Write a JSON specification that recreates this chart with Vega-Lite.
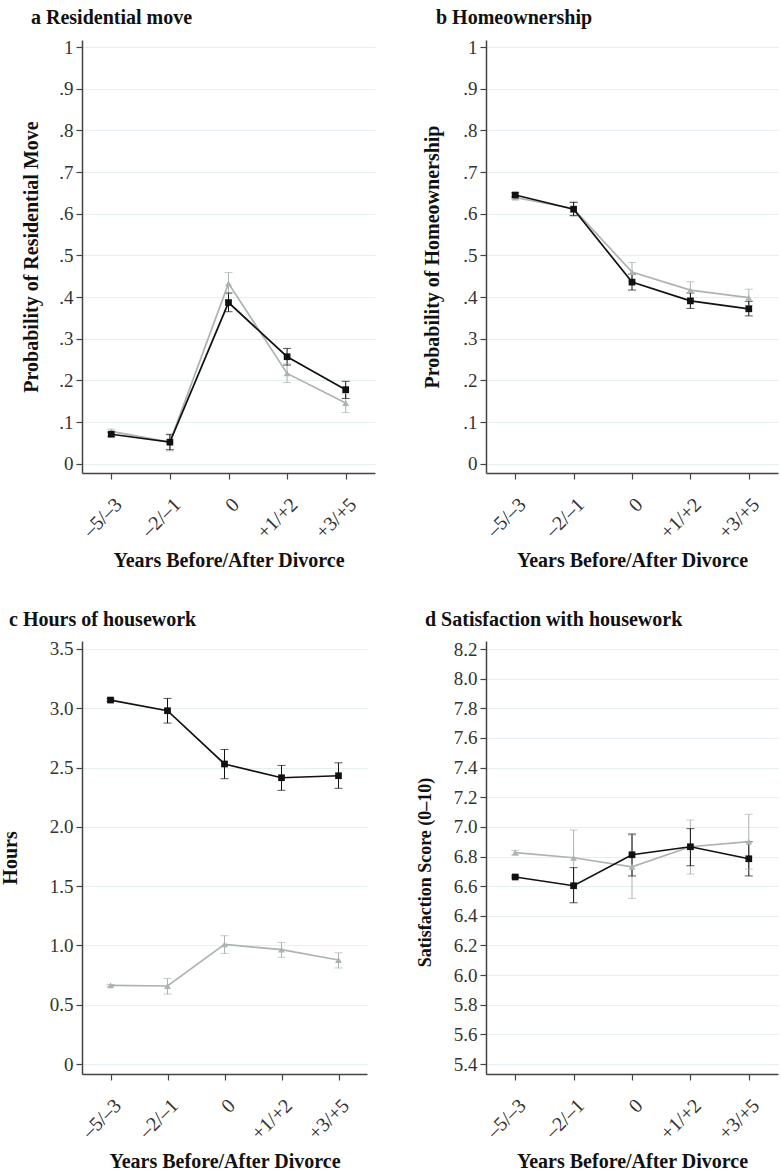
{
  "$schema": "https://vega.github.io/schema/vega-lite/v6.json",
  "background": "white",
  "padding": {"left": 0, "top": 8, "right": 2, "bottom": 2},
  "bounds": "flush",
  "columns": 2,
  "spacing": {"row": 168, "column": 111},
  "config": {
    "font": "Liberation Serif",
    "view": {"stroke": null},
    "axis": {"labelFont": "Liberation Serif", "titleFont": "Liberation Serif", "labelFontSize": 19, "titleFontSize": 20, "titleFontWeight": "bold", "labelColor": "#333333", "titleColor": "#111111", "domainColor": "#444444", "domainWidth": 1.5, "tickColor": "#444444", "tickSize": 6, "tickWidth": 1.2, "gridColor": "#e6eff0", "gridWidth": 1, "labelPadding": 3, "labelOverlap": false},
    "axisX": {"grid": false, "labelAngle": -45, "labelFontSize": 20, "labelPadding": 15, "titlePadding": 8},
    "axisY": {"grid": true, "labelOverlap": false},
    "axisQuantitative": {"labelOverlap": false},
    "title": {"font": "Liberation Serif", "fontSize": 20, "fontWeight": "bold", "color": "#111111", "anchor": "start", "frame": "group", "offset": 10}
  },
  "datasets": {
    "a": [
      {"period": "–5/–3", "group": "Men", "v": 0.078, "lo": 0.073, "hi": 0.083},
      {"period": "–2/–1", "group": "Men", "v": 0.052, "lo": 0.031, "hi": 0.072},
      {"period": "0", "group": "Men", "v": 0.433, "lo": 0.408, "hi": 0.459},
      {"period": "+1/+2", "group": "Men", "v": 0.217, "lo": 0.195, "hi": 0.240},
      {"period": "+3/+5", "group": "Men", "v": 0.146, "lo": 0.123, "hi": 0.168},
      {"period": "–5/–3", "group": "Women", "v": 0.071, "lo": 0.066, "hi": 0.076},
      {"period": "–2/–1", "group": "Women", "v": 0.052, "lo": 0.034, "hi": 0.070},
      {"period": "0", "group": "Women", "v": 0.387, "lo": 0.365, "hi": 0.410},
      {"period": "+1/+2", "group": "Women", "v": 0.257, "lo": 0.237, "hi": 0.277},
      {"period": "+3/+5", "group": "Women", "v": 0.178, "lo": 0.157, "hi": 0.198}
    ],
    "b": [
      {"period": "–5/–3", "group": "Men", "v": 0.639, "lo": 0.634, "hi": 0.644},
      {"period": "–2/–1", "group": "Men", "v": 0.612, "lo": 0.594, "hi": 0.630},
      {"period": "0", "group": "Men", "v": 0.460, "lo": 0.438, "hi": 0.483},
      {"period": "+1/+2", "group": "Men", "v": 0.417, "lo": 0.397, "hi": 0.437},
      {"period": "+3/+5", "group": "Men", "v": 0.399, "lo": 0.380, "hi": 0.419},
      {"period": "–5/–3", "group": "Women", "v": 0.645, "lo": 0.640, "hi": 0.650},
      {"period": "–2/–1", "group": "Women", "v": 0.611, "lo": 0.596, "hi": 0.627},
      {"period": "0", "group": "Women", "v": 0.436, "lo": 0.417, "hi": 0.455},
      {"period": "+1/+2", "group": "Women", "v": 0.391, "lo": 0.373, "hi": 0.410},
      {"period": "+3/+5", "group": "Women", "v": 0.372, "lo": 0.355, "hi": 0.390}
    ],
    "c": [
      {"period": "–5/–3", "group": "Men", "v": 0.663, "lo": 0.655, "hi": 0.671},
      {"period": "–2/–1", "group": "Men", "v": 0.658, "lo": 0.590, "hi": 0.722},
      {"period": "0", "group": "Men", "v": 1.009, "lo": 0.933, "hi": 1.082},
      {"period": "+1/+2", "group": "Men", "v": 0.964, "lo": 0.900, "hi": 1.026},
      {"period": "+3/+5", "group": "Men", "v": 0.877, "lo": 0.810, "hi": 0.938},
      {"period": "–5/–3", "group": "Women", "v": 3.069, "lo": 3.058, "hi": 3.080},
      {"period": "–2/–1", "group": "Women", "v": 2.979, "lo": 2.875, "hi": 3.083},
      {"period": "0", "group": "Women", "v": 2.530, "lo": 2.406, "hi": 2.652},
      {"period": "+1/+2", "group": "Women", "v": 2.414, "lo": 2.308, "hi": 2.518},
      {"period": "+3/+5", "group": "Women", "v": 2.431, "lo": 2.325, "hi": 2.540}
    ],
    "d": [
      {"period": "–5/–3", "group": "Men", "v": 6.826, "lo": 6.810, "hi": 6.842},
      {"period": "–2/–1", "group": "Men", "v": 6.792, "lo": 6.605, "hi": 6.979},
      {"period": "0", "group": "Men", "v": 6.731, "lo": 6.518, "hi": 6.945},
      {"period": "+1/+2", "group": "Men", "v": 6.866, "lo": 6.682, "hi": 7.046},
      {"period": "+3/+5", "group": "Men", "v": 6.900, "lo": 6.715, "hi": 7.085},
      {"period": "–5/–3", "group": "Women", "v": 6.662, "lo": 6.655, "hi": 6.670},
      {"period": "–2/–1", "group": "Women", "v": 6.603, "lo": 6.488, "hi": 6.725},
      {"period": "0", "group": "Women", "v": 6.812, "lo": 6.669, "hi": 6.952},
      {"period": "+1/+2", "group": "Women", "v": 6.866, "lo": 6.738, "hi": 6.988},
      {"period": "+3/+5", "group": "Women", "v": 6.785, "lo": 6.669, "hi": 6.900}
    ]
  },
  "concat": [
    {
      "title": {"text": "a Residential move", "dx": -51},
      "width": 293, "height": 433,
      "data": {"name": "a"},
      "encoding": {
        "x": {"field": "period", "type": "ordinal", "sort": ["–5/–3", "–2/–1", "0", "+1/+2", "+3/+5"], "scale": {"type": "point", "padding": 0.5}, "axis": {"title": "Years Before/After Divorce"}},
        "color": {"field": "group", "type": "nominal", "scale": {"domain": ["Women", "Men"], "range": ["#111111", "#abb3b3"]}, "legend": null}
      },
      "layer": [
        {"mark": {"type": "rule", "strokeWidth": 1}, "encoding": {"y": {"field": "lo", "type": "quantitative", "title": "Probability of Residential Move", "scale": {"domain": [-0.022, 1.017], "nice": false, "zero": false}, "axis": {"values": [0, 0.05, 0.1, 0.15, 0.2, 0.25, 0.3, 0.35, 0.4, 0.45, 0.5, 0.55, 0.6, 0.65, 0.7, 0.75, 0.8, 0.85, 0.9, 0.95, 1], "labelExpr": "abs(datum.value*10 - round(datum.value*10)) > 0.01 ? '' : (datum.value < 0.001 ? '0' : (datum.value > 0.999 ? '1' : replace(format(datum.value, '.1f'), '0.', '.')))", "titlePadding": 17, "labelOverlap": false}}, "y2": {"field": "hi"}}},
        {"mark": {"type": "tick", "size": 8, "thickness": 1}, "encoding": {"y": {"field": "lo", "type": "quantitative", "title": "Probability of Residential Move"}}},
        {"mark": {"type": "tick", "size": 8, "thickness": 1}, "encoding": {"y": {"field": "hi", "type": "quantitative", "title": "Probability of Residential Move"}}},
        {"mark": {"type": "line", "strokeWidth": 1.7}, "encoding": {"y": {"field": "v", "type": "quantitative", "title": "Probability of Residential Move"}}},
        {"mark": {"type": "point", "filled": true, "opacity": 1, "size": 45}, "encoding": {"y": {"field": "v", "type": "quantitative", "title": "Probability of Residential Move"}, "shape": {"field": "group", "type": "nominal", "scale": {"domain": ["Women", "Men"], "range": ["square", "triangle-up"]}, "legend": null}}}
      ]
    },
    {
      "title": {"text": "b Homeownership", "dx": -50},
      "width": 292, "height": 433,
      "data": {"name": "b"},
      "encoding": {
        "x": {"field": "period", "type": "ordinal", "sort": ["–5/–3", "–2/–1", "0", "+1/+2", "+3/+5"], "scale": {"type": "point", "padding": 0.5}, "axis": {"title": "Years Before/After Divorce"}},
        "color": {"field": "group", "type": "nominal", "scale": {"domain": ["Women", "Men"], "range": ["#111111", "#abb3b3"]}, "legend": null}
      },
      "layer": [
        {"mark": {"type": "rule", "strokeWidth": 1}, "encoding": {"y": {"field": "lo", "type": "quantitative", "title": "Probability of Homeownership", "scale": {"domain": [-0.022, 1.017], "nice": false, "zero": false}, "axis": {"values": [0, 0.05, 0.1, 0.15, 0.2, 0.25, 0.3, 0.35, 0.4, 0.45, 0.5, 0.55, 0.6, 0.65, 0.7, 0.75, 0.8, 0.85, 0.9, 0.95, 1], "labelExpr": "abs(datum.value*10 - round(datum.value*10)) > 0.01 ? '' : (datum.value < 0.001 ? '0' : (datum.value > 0.999 ? '1' : replace(format(datum.value, '.1f'), '0.', '.')))", "titlePadding": 20, "labelOverlap": false}}, "y2": {"field": "hi"}}},
        {"mark": {"type": "tick", "size": 8, "thickness": 1}, "encoding": {"y": {"field": "lo", "type": "quantitative", "title": "Probability of Homeownership"}}},
        {"mark": {"type": "tick", "size": 8, "thickness": 1}, "encoding": {"y": {"field": "hi", "type": "quantitative", "title": "Probability of Homeownership"}}},
        {"mark": {"type": "line", "strokeWidth": 1.7}, "encoding": {"y": {"field": "v", "type": "quantitative", "title": "Probability of Homeownership"}}},
        {"mark": {"type": "point", "filled": true, "opacity": 1, "size": 45}, "encoding": {"y": {"field": "v", "type": "quantitative", "title": "Probability of Homeownership"}, "shape": {"field": "group", "type": "nominal", "scale": {"domain": ["Women", "Men"], "range": ["square", "triangle-up"]}, "legend": null}}}
      ]
    },
    {
      "title": {"text": "c Hours of housework", "dx": -73},
      "width": 285, "height": 433,
      "data": {"name": "c"},
      "encoding": {
        "x": {"field": "period", "type": "ordinal", "sort": ["–5/–3", "–2/–1", "0", "+1/+2", "+3/+5"], "scale": {"type": "point", "padding": 0.5}, "axis": {"title": "Years Before/After Divorce"}},
        "color": {"field": "group", "type": "nominal", "scale": {"domain": ["Women", "Men"], "range": ["#111111", "#abb3b3"]}, "legend": null}
      },
      "layer": [
        {"mark": {"type": "rule", "strokeWidth": 1}, "encoding": {"y": {"field": "lo", "type": "quantitative", "title": "Hours", "scale": {"domain": [-0.084, 3.567], "nice": false, "zero": false}, "axis": {"values": [0, 0.25, 0.5, 0.75, 1, 1.25, 1.5, 1.75, 2, 2.25, 2.5, 2.75, 3, 3.25, 3.5], "labelExpr": "abs(datum.value*2 - round(datum.value*2)) > 0.01 ? '' : (datum.value < 0.001 ? '0' : format(datum.value, '.1f'))", "titlePadding": 29, "labelOverlap": false}}, "y2": {"field": "hi"}}},
        {"mark": {"type": "tick", "size": 8, "thickness": 1}, "encoding": {"y": {"field": "lo", "type": "quantitative", "title": "Hours"}}},
        {"mark": {"type": "tick", "size": 8, "thickness": 1}, "encoding": {"y": {"field": "hi", "type": "quantitative", "title": "Hours"}}},
        {"mark": {"type": "line", "strokeWidth": 1.7}, "encoding": {"y": {"field": "v", "type": "quantitative", "title": "Hours"}}},
        {"mark": {"type": "point", "filled": true, "opacity": 1, "size": 45}, "encoding": {"y": {"field": "v", "type": "quantitative", "title": "Hours"}, "shape": {"field": "group", "type": "nominal", "scale": {"domain": ["Women", "Men"], "range": ["square", "triangle-up"]}, "legend": null}}}
      ]
    },
    {
      "title": {"text": "d Satisfaction with housework", "dx": -61},
      "width": 292, "height": 433,
      "data": {"name": "d"},
      "encoding": {
        "x": {"field": "period", "type": "ordinal", "sort": ["–5/–3", "–2/–1", "0", "+1/+2", "+3/+5"], "scale": {"type": "point", "padding": 0.5}, "axis": {"title": "Years Before/After Divorce"}},
        "color": {"field": "group", "type": "nominal", "scale": {"domain": ["Women", "Men"], "range": ["#111111", "#abb3b3"]}, "legend": null}
      },
      "layer": [
        {"mark": {"type": "rule", "strokeWidth": 1}, "encoding": {"y": {"field": "lo", "type": "quantitative", "title": "Satisfaction Score (0–10)", "scale": {"domain": [5.333, 8.254], "nice": false, "zero": false}, "axis": {"values": [5.4, 5.6, 5.8, 6.0, 6.2, 6.4, 6.6, 6.8, 7.0, 7.2, 7.4, 7.6, 7.8, 8.0, 8.2], "labelExpr": "format(datum.value, '.1f')", "titlePadding": 19, "titleY": 231, "titleFontSize": 18, "labelOverlap": false, "labelSeparation": 0}}, "y2": {"field": "hi"}}},
        {"mark": {"type": "tick", "size": 8, "thickness": 1}, "encoding": {"y": {"field": "lo", "type": "quantitative", "title": "Satisfaction Score (0–10)", "axis": {"values": [5.4, 5.6, 5.8, 6.0, 6.2, 6.4, 6.6, 6.8, 7.0, 7.2, 7.4, 7.6, 7.8, 8.0, 8.2], "labelExpr": "format(datum.value, '.1f')", "titlePadding": 19, "titleY": 231, "titleFontSize": 18, "labelOverlap": false, "labelSeparation": 0}}}},
        {"mark": {"type": "tick", "size": 8, "thickness": 1}, "encoding": {"y": {"field": "hi", "type": "quantitative", "title": "Satisfaction Score (0–10)", "axis": {"values": [5.4, 5.6, 5.8, 6.0, 6.2, 6.4, 6.6, 6.8, 7.0, 7.2, 7.4, 7.6, 7.8, 8.0, 8.2], "labelExpr": "format(datum.value, '.1f')", "titlePadding": 19, "titleY": 231, "titleFontSize": 18, "labelOverlap": false, "labelSeparation": 0}}}},
        {"mark": {"type": "line", "strokeWidth": 1.7}, "encoding": {"y": {"field": "v", "type": "quantitative", "title": "Satisfaction Score (0–10)", "axis": {"values": [5.4, 5.6, 5.8, 6.0, 6.2, 6.4, 6.6, 6.8, 7.0, 7.2, 7.4, 7.6, 7.8, 8.0, 8.2], "labelExpr": "format(datum.value, '.1f')", "titlePadding": 19, "titleY": 231, "titleFontSize": 18, "labelOverlap": false, "labelSeparation": 0}}}},
        {"mark": {"type": "point", "filled": true, "opacity": 1, "size": 45}, "encoding": {"y": {"field": "v", "type": "quantitative", "title": "Satisfaction Score (0–10)", "axis": {"values": [5.4, 5.6, 5.8, 6.0, 6.2, 6.4, 6.6, 6.8, 7.0, 7.2, 7.4, 7.6, 7.8, 8.0, 8.2], "labelExpr": "format(datum.value, '.1f')", "titlePadding": 19, "titleY": 231, "titleFontSize": 18, "labelOverlap": false, "labelSeparation": 0}}, "shape": {"field": "group", "type": "nominal", "scale": {"domain": ["Women", "Men"], "range": ["square", "triangle-up"]}, "legend": null}}}
      ]
    }
  ]
}
